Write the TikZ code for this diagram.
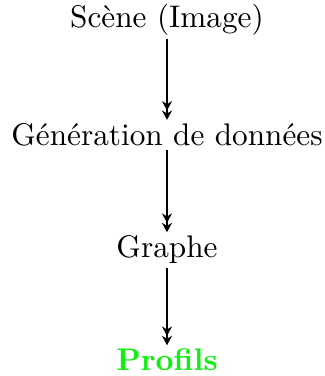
\documentclass[tikz,border=0pt]{standalone}
\usepackage{xcolor}
\usepackage{tikz}
\usetikzlibrary{arrows.meta}
\definecolor{profgreen}{HTML}{11EE11}
\tikzset{
  etape/.style={inner sep=1pt,font=\normalsize},
  etapefin/.style={etape,text=profgreen,font=\normalsize\bfseries},
  flux/.style={-{Stealth[length=3pt,width=3.2pt]Stealth[length=3pt,width=3.2pt]},semithick},
}
\begin{document}
\begin{tikzpicture}[x=0.32pt,y=-0.32pt]
  \useasboundingbox (0,0) rectangle (324,376);
  \node[etape] (scene) at (167,20) {Scène (Image)};
  \node[etape] (gen) at (167,135) {Génération de données};
  \node[etape] (graphe) at (167,250) {Graphe};
  \node[etapefin] (profils) at (167,360) {Profils};
  \draw[flux] (scene) -- (gen);
  \draw[flux] (gen) -- (graphe);
  \draw[flux] (graphe) -- (profils);
\end{tikzpicture}
\end{document}
